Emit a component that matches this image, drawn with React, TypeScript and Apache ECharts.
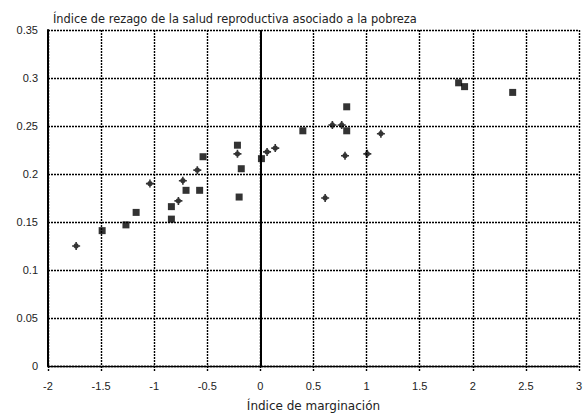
import React, { useEffect, useRef } from "react";
import * as echarts from "echarts";

// Índice de marginación (x) vs. índice de rezago (y), two marker groups
const squareX = [-1.49, -1.266, -1.17, -0.838, -0.838, -0.7, -0.572, -0.54, -0.216, -0.18, -0.2, 0.01, 0.4, 0.813, 0.813, 1.867, 1.923, 2.376];
const squareY = [0.141, 0.147, 0.16, 0.153, 0.166, 0.183, 0.183, 0.218, 0.23, 0.2055, 0.176, 0.216, 0.245, 0.27, 0.245, 0.295, 0.291, 0.285];

const plusX = [-1.735, -1.04, -0.772, -0.73, -0.594, -0.216, 0.063, 0.14, 0.678, 0.766, 1.135, 0.797, 1.007, 0.61];
const plusY = [0.125, 0.19, 0.172, 0.193, 0.204, 0.221, 0.223, 0.227, 0.251, 0.251, 0.242, 0.219, 0.221, 0.175];

const xTicks = { min: -2, max: 3, step: 0.5 };
const yTicks = { min: 0, max: 0.35, step: 0.05 };

const titleText = "Índice de rezago de la salud reproductiva asociado a la pobreza";
const xName = "Índice de marginación";

const TICK_FONT = "Liberation Sans";
const TEXT_FONT = "DejaVu Sans";
// fat plus: thin cross arms around a round core
const plusSymbol =
  "path://M3.2,0h1.6v8h-1.6z M0,3.2h8v1.6h-8z M4,1.3A2.7,2.7 0 1 1 3.999,1.3Z";

const dotted = { color: "#000", width: 1.4, type: [2, 1] as number[] };

export default function App() {
  const ref = useRef<HTMLDivElement>(null);

  useEffect(() => {
    if (!ref.current) return;
    const chart = echarts.init(ref.current, null, { renderer: "svg" });
    chart.setOption({
      animation: false,
      backgroundColor: "#fff",
      title: {
        text: titleText,
        left: 48,
        top: 8,
        textStyle: { fontFamily: TEXT_FONT, fontSize: 11.4, fontWeight: "normal", color: "#222" },
      },
      grid: { left: 48, right: 3, top: 30, bottom: 54 },
      xAxis: {
        type: "value",
        min: xTicks.min,
        max: xTicks.max,
        interval: xTicks.step,
        name: xName,
        nameLocation: "middle",
        nameGap: 34,
        nameTextStyle: { fontFamily: TEXT_FONT, fontSize: 12, color: "#222" },
        axisLine: { show: true, onZero: false, lineStyle: dotted },
        axisTick: { show: true, length: 6, lineStyle: dotted },
        axisLabel: { fontFamily: TICK_FONT, fontSize: 11, color: "#222", margin: 14 },
        splitLine: { show: true, lineStyle: dotted },
      },
      yAxis: {
        type: "value",
        min: yTicks.min,
        max: yTicks.max,
        interval: yTicks.step,
        axisLine: { show: true, onZero: false, lineStyle: { color: "#000", width: 2 } },
        axisTick: { show: false },
        axisLabel: { fontFamily: TICK_FONT, fontSize: 11, color: "#222", margin: 10 },
        splitLine: { show: true, lineStyle: dotted },
      },
      series: [
        {
          type: "scatter",
          symbol: "rect",
          symbolSize: 7,
          itemStyle: { color: "#000" },
          data: squareX.map((x, i) => [x, squareY[i]]),
          markLine: {
            silent: true,
            symbol: "none",
            label: { show: false },
            lineStyle: { color: "#000", width: 2, type: "solid" },
            data: [{ xAxis: 0 }],
          },
        },
        {
          type: "scatter",
          symbol: plusSymbol,
          symbolSize: 8,
          itemStyle: { color: "#000" },
          data: plusX.map((x, i) => [x, plusY[i]]),
        },
      ],
    });
    return () => chart.dispose();
  }, []);

  return (
    <div
      ref={ref}
      style={{ position: "absolute", left: 0, top: 0, width: 585, height: 420 }}
    />
  );
}
